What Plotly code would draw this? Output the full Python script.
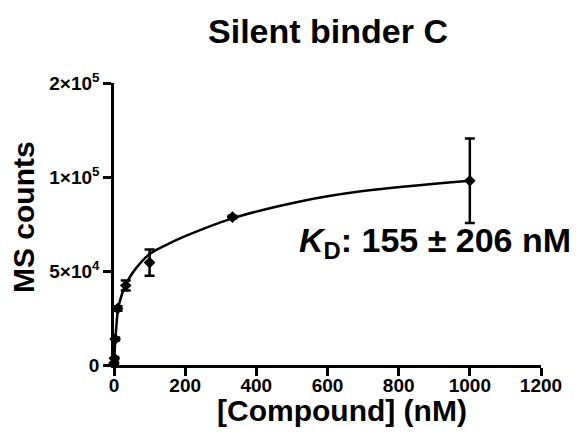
import plotly.graph_objects as go

# Measured points
conc = [0, 1, 3.3, 10, 33, 100, 333, 1000]
counts = [1000, 3600, 13800, 30000, 42300, 54500, 78700, 98000]
errs = [600, 600, 800, 1200, 2700, 7000, 700, 22500]

# Fitted curve
fit_x = [0, 1, 3, 6, 11, 22, 39, 60, 100, 143, 200, 333, 523, 700, 1000]
fit_y = [0, 4000, 11000, 19000, 29000, 37500, 45000, 51000, 59000, 63500, 68500, 78000, 87000, 92500, 98000]

y_tickvals = [0, 50000, 100000, 150000]
y_ticktext = ["0", "5×10<sup>4</sup>", "1×10<sup>5</sup>", "2×10<sup>5</sup>"]
x_tickvals = [0, 200, 400, 600, 800, 1000, 1200]

FONT = "Liberation Sans, Arial, sans-serif"


def f(size):
    return dict(size=size, family=FONT, color="black", weight="bold")


# page has an 8px body margin; figure is sized/offset to compensate
W, H = 575, 435
PX0, PX1, PY0, PY1 = 114, 541, 83, 365  # plot area in page pixels


def px(xp):
    return (xp - PX0) / (PX1 - PX0)


def py(yp):
    return (PY1 - yp) / (PY1 - PY0)


fig = go.Figure()
fig.add_trace(go.Scatter(x=fit_x, y=fit_y, mode="lines", line=dict(color="black", width=2.5, shape="spline"),
                         hoverinfo="skip", showlegend=False, cliponaxis=False))
fig.add_trace(go.Scatter(x=conc, y=counts, mode="markers",
                         marker=dict(symbol="diamond", size=9, color="black"),
                         error_y=dict(type="data", array=errs, color="black", thickness=2.5, width=5),
                         showlegend=False, cliponaxis=False))

fig.update_layout(
    width=W, height=H,
    margin=dict(l=PX0 - 8, r=W + 8 - PX1, t=PY0 - 8, b=H + 8 - PY1),
    plot_bgcolor="white", paper_bgcolor="white",
    font=dict(family=FONT, color="black"),
    title=dict(text="Silent binder C", x=(328 - 8) / W, xanchor="center",
               y=1 - (31 - 8) / H, yanchor="middle", yref="container",
               font=f(34)),
    xaxis=dict(range=[0, 1200], tickvals=x_tickvals, ticktext=[str(v) for v in x_tickvals],
               showline=True, linecolor="black", linewidth=2.5, ticks="outside", ticklen=8,
               tickwidth=2.5, tickcolor="black", showgrid=False, zeroline=False,
               tickfont=f(19), ticklabelstandoff=-7),
    yaxis=dict(range=[0, 150000], tickvals=y_tickvals, ticktext=y_ticktext,
               showline=True, linecolor="black", linewidth=2.5, ticks="outside", ticklen=8,
               tickwidth=2.5, tickcolor="black", showgrid=False, zeroline=False,
               tickfont=f(19)),
    annotations=[
        dict(text="[Compound] (nM)", xref="paper", yref="paper", x=px(342), y=py(410),
             xanchor="center", yanchor="middle", showarrow=False, font=f(30)),
        dict(text="MS counts", xref="paper", yref="paper", x=px(23), y=py(217), textangle=-90,
             xanchor="center", yanchor="middle", showarrow=False, font=f(30)),
        dict(text="<i>K</i><sub>D</sub>: 155 ± 206 nM", xref="paper", yref="paper",
             x=px(435), y=py(243), xanchor="center", yanchor="middle",
             showarrow=False, font=f(34)),
    ],
)

fig.write_html("out.html")
